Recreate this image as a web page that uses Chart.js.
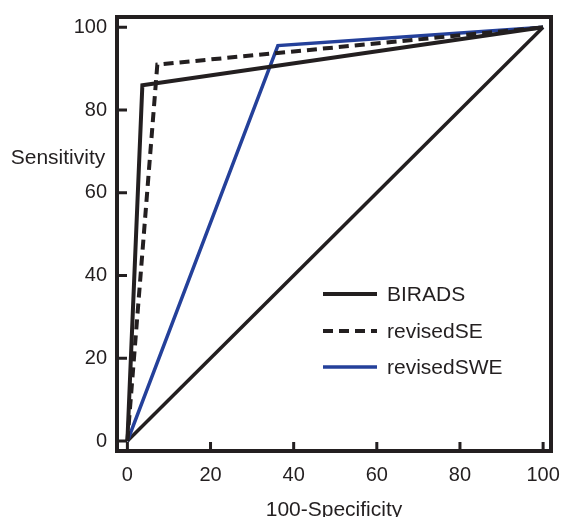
<!DOCTYPE html>
<html>
<head>
<meta charset="utf-8">
<script src="https://cdn.jsdelivr.net/npm/chart.js@4/dist/chart.umd.min.js"></script>
<style>
  body { margin: 0; background: #fff; }
  #wrap { width: 561px; height: 517px; }
</style>
</head>
<body>
<div id="wrap"><canvas id="roc"></canvas></div>
<script>
// values (100-specificity vs sensitivity)
const biradsX = [0, 3.6, 100];
const biradsY = [0, 86, 100];
const revisedSEX = [0, 7.2, 100];
const revisedSEY = [0, 91, 100];
const revisedSWEX = [0, 36.2, 100];
const revisedSWEY = [0, 95.6, 100];
const chanceX = [0, 100];
const chanceY = [0, 100];
const xTicks = [0, 20, 40, 60, 80, 100];
const yTicks = [0, 20, 40, 60, 80, 100];

const FONT = "'Liberation Sans', Arial, sans-serif";

function pts(xs, ys) {
  return xs.map((x, i) => ({ x: x, y: ys[i] }));
}

// box around the plot, ticks pointing in, horizontal y title, legend inside
const framePlugin = {
  id: 'frame',
  afterDatasetsDraw(chart) {
    const ctx = chart.ctx;
    const a = chart.chartArea;
    const xs = chart.scales.x, ys = chart.scales.y;
    ctx.save();
    ctx.strokeStyle = '#231f20';
    ctx.lineWidth = 3;
    ctx.beginPath();
    xs.ticks.forEach(t => {
      const px = xs.getPixelForValue(t.value);
      ctx.moveTo(px, a.bottom);
      ctx.lineTo(px, a.bottom - 9);
    });
    ys.ticks.forEach(t => {
      const py = ys.getPixelForValue(t.value);
      ctx.moveTo(a.left, py);
      ctx.lineTo(a.left + 10, py);
    });
    ctx.stroke();
    ctx.lineWidth = 4;
    ctx.strokeRect(a.left, a.top, a.right - a.left, a.bottom - a.top);

    ctx.fillStyle = '#231f20';
    ctx.font = '21px ' + FONT;
    ctx.textAlign = 'center';
    ctx.textBaseline = 'alphabetic';
    ctx.fillText('Sensitivity', 58, 164);

    // legend
    const rows = [294, 331, 367];
    ctx.textAlign = 'left';
    ctx.textBaseline = 'middle';
    chart.data.datasets.forEach((ds, i) => {
      if (i >= rows.length) return;
      const y = rows[i];
      ctx.strokeStyle = ds.borderColor;
      ctx.lineWidth = ds.borderWidth;
      ctx.setLineDash(ds.borderDash || []);
      ctx.beginPath();
      ctx.moveTo(323, y);
      ctx.lineTo(377, y);
      ctx.stroke();
      ctx.setLineDash([]);
      ctx.fillStyle = '#231f20';
      ctx.fillText(ds.label, 387, y + 1);
    });
    ctx.restore();
  }
};

new Chart(document.getElementById('roc'), {
  type: 'line',
  data: {
    datasets: [
      {
        label: 'BIRADS',
        data: pts(biradsX, biradsY),
        borderColor: '#231f20',
        borderWidth: 4,
      },
      {
        label: 'revisedSE',
        data: pts(revisedSEX, revisedSEY),
        borderColor: '#231f20',
        borderWidth: 4,
        borderDash: [10, 6],
      },
      {
        label: 'revisedSWE',
        data: pts(revisedSWEX, revisedSWEY),
        borderColor: '#24409a',
        borderWidth: 3.5,
      },
      {
        label: 'chance',
        data: pts(chanceX, chanceY),
        borderColor: '#231f20',
        borderWidth: 3.5,
      }
    ]
  },
  options: {
    responsive: true,
    maintainAspectRatio: false,
    animation: false,
    elements: { point: { radius: 0 }, line: { tension: 0 } },
    layout: { padding: { top: 17, right: 10, left: 0, bottom: 0 } },
    plugins: { legend: { display: false }, tooltip: { enabled: false } },
    scales: {
      x: {
        type: 'linear',
        min: -2.5,
        max: 101.9,
        grid: { display: false, drawTicks: false },
        border: { display: false },
        afterBuildTicks: s => { s.ticks = xTicks.map(v => ({ value: v })); },
        afterFit: s => { s.height = 66; s.paddingLeft = 0; s.paddingRight = 0; },
        ticks: {
          color: '#231f20',
          padding: 12,
          maxRotation: 0,
          font: { family: FONT, size: 20 }
        },
        title: {
          display: true,
          text: '100-Specificity',
          color: '#231f20',
          font: { family: FONT, size: 21, lineHeight: 1 },
          padding: { top: 4, bottom: -4 }
        }
      },
      y: {
        type: 'linear',
        min: -2.4,
        max: 102.5,
        grid: { display: false, drawTicks: false },
        border: { display: false },
        afterBuildTicks: s => { s.ticks = yTicks.map(v => ({ value: v })); },
        afterFit: s => { s.width = 117; s.paddingTop = 0; s.paddingBottom = 0; },
        ticks: {
          color: '#231f20',
          padding: 10,
          font: { family: FONT, size: 20 }
        }
      }
    }
  },
  plugins: [framePlugin]
});
</script>
</body>
</html>
